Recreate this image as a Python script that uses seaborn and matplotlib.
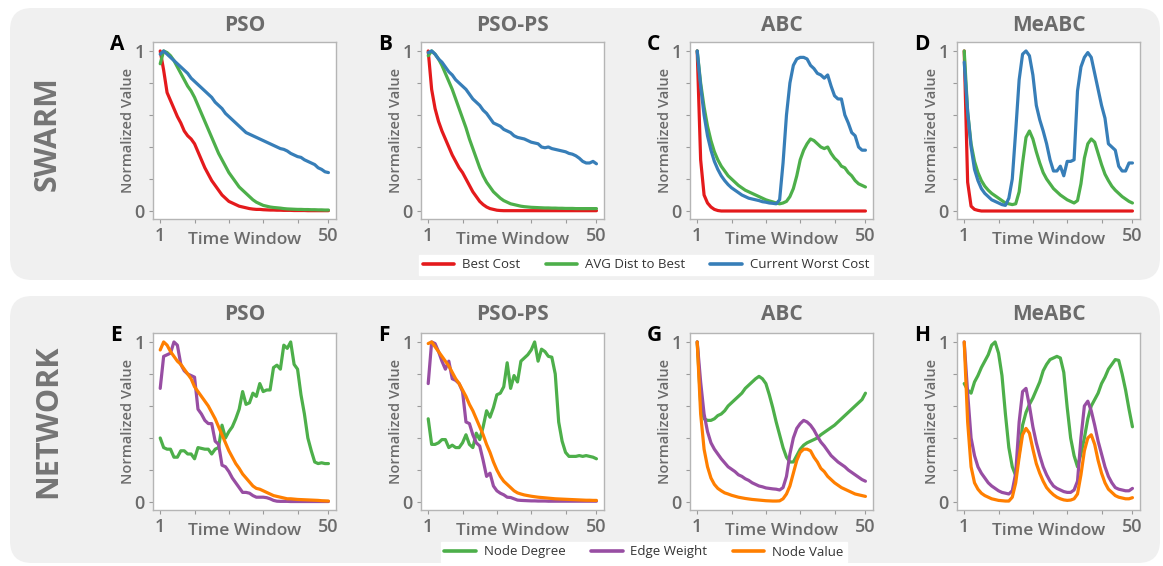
import numpy as np
import pandas as pd
import matplotlib
matplotlib.use("Agg")
import matplotlib.pyplot as plt
from matplotlib.patches import FancyBboxPatch
from matplotlib.lines import Line2D
import seaborn as sns

# ---------------- data ----------------
time_window = list(range(1, 51))
algorithms = ["PSO", "PSO-PS", "ABC", "MeABC"]
swarm_letters = ["A", "B", "C", "D"]
network_letters = ["E", "F", "G", "H"]
swarm_metrics = ["Best Cost", "AVG Dist to Best", "Current Worst Cost"]
network_metrics = ["Node Degree", "Edge Weight", "Node Value"]
x_tick_labels = ["1", "", "", "", "", "50"]
y_tick_labels = ["0", "", "", "", "", "1"]

# --- SWARM ---
pso_best = [1.0, 0.88, 0.74, 0.69, 0.64, 0.59, 0.55, 0.50, 0.47, 0.45, 0.42, 0.37, 0.32, 0.27, 0.23, 0.19, 0.16, 0.13, 0.10, 0.08,
            0.06, 0.05, 0.04, 0.03, 0.025, 0.02, 0.015, 0.012, 0.01, 0.01, 0.008, 0.007, 0.006, 0.006, 0.005, 0.005, 0.004, 0.004, 0.004, 0.003,
            0.003, 0.003, 0.003, 0.002, 0.002, 0.002, 0.002, 0.002, 0.002, 0.002]
pso_avg = [0.92, 1.0, 0.99, 0.97, 0.94, 0.90, 0.86, 0.82, 0.78, 0.75, 0.71, 0.66, 0.61, 0.56, 0.51, 0.46, 0.41, 0.36, 0.32, 0.28,
           0.24, 0.21, 0.18, 0.15, 0.13, 0.11, 0.09, 0.07, 0.055, 0.045, 0.035, 0.03, 0.025, 0.022, 0.02, 0.018, 0.015, 0.013, 0.012, 0.011,
           0.01, 0.01, 0.009, 0.009, 0.008, 0.008, 0.007, 0.007, 0.006, 0.006]
pso_worst = [0.98, 1.0, 0.98, 0.96, 0.94, 0.92, 0.90, 0.88, 0.86, 0.83, 0.81, 0.79, 0.77, 0.75, 0.73, 0.71, 0.68, 0.66, 0.64, 0.61,
             0.59, 0.57, 0.55, 0.53, 0.51, 0.49, 0.48, 0.47, 0.46, 0.45, 0.44, 0.43, 0.42, 0.41, 0.40, 0.39, 0.385, 0.375, 0.36, 0.35,
             0.34, 0.335, 0.32, 0.31, 0.30, 0.29, 0.27, 0.26, 0.245, 0.24]

psops_best = [1.0, 0.76, 0.64, 0.56, 0.50, 0.45, 0.40, 0.35, 0.31, 0.27, 0.24, 0.20, 0.16, 0.12, 0.09, 0.06, 0.04, 0.025, 0.015, 0.01,
              0.005, 0.003, 0.002, 0.002, 0.002, 0.002, 0.002, 0.002, 0.002, 0.002, 0.002, 0.002, 0.002, 0.002, 0.002, 0.002, 0.002, 0.002, 0.002, 0.002,
              0.002, 0.002, 0.002, 0.002, 0.002, 0.002, 0.002, 0.002, 0.002, 0.002]
psops_avg = [0.97, 1.0, 0.98, 0.95, 0.91, 0.86, 0.81, 0.76, 0.70, 0.64, 0.58, 0.52, 0.45, 0.39, 0.33, 0.27, 0.22, 0.18, 0.15, 0.12,
             0.10, 0.08, 0.065, 0.055, 0.045, 0.04, 0.035, 0.03, 0.027, 0.025, 0.023, 0.022, 0.021, 0.02, 0.019, 0.019, 0.018, 0.018, 0.017, 0.017,
             0.016, 0.016, 0.016, 0.015, 0.015, 0.015, 0.015, 0.015, 0.015, 0.015]
psops_worst = [0.99, 1.0, 0.98, 0.95, 0.93, 0.90, 0.87, 0.85, 0.82, 0.80, 0.78, 0.76, 0.73, 0.70, 0.68, 0.66, 0.63, 0.61, 0.58, 0.55,
               0.54, 0.53, 0.51, 0.50, 0.49, 0.47, 0.46, 0.455, 0.45, 0.44, 0.43, 0.425, 0.42, 0.40, 0.395, 0.40, 0.39, 0.385, 0.38, 0.375,
               0.37, 0.36, 0.355, 0.345, 0.33, 0.31, 0.30, 0.30, 0.31, 0.295]

abc_best = [1.0, 0.32, 0.10, 0.05, 0.025, 0.01, 0.003] + [0.0] * 43
abc_avg = [1.0, 0.80, 0.65, 0.53, 0.44, 0.37, 0.32, 0.28, 0.25, 0.22, 0.20, 0.18, 0.16, 0.145, 0.13, 0.12, 0.11, 0.10, 0.09, 0.08,
           0.07, 0.063, 0.057, 0.05, 0.045, 0.05, 0.06, 0.09, 0.14, 0.22, 0.32, 0.38, 0.42, 0.45, 0.44, 0.42, 0.40, 0.39, 0.40, 0.36,
           0.33, 0.31, 0.28, 0.27, 0.24, 0.22, 0.19, 0.17, 0.16, 0.15]
abc_worst = [1.0, 0.78, 0.60, 0.47, 0.38, 0.31, 0.26, 0.22, 0.19, 0.165, 0.145, 0.13, 0.115, 0.10, 0.09, 0.08, 0.075, 0.07, 0.065, 0.058,
             0.055, 0.05, 0.048, 0.045, 0.07, 0.30, 0.60, 0.80, 0.91, 0.95, 0.96, 0.96, 0.95, 0.91, 0.89, 0.86, 0.85, 0.83, 0.85, 0.78,
             0.72, 0.70, 0.70, 0.60, 0.55, 0.49, 0.47, 0.40, 0.38, 0.38]

meabc_best = [1.0, 0.18, 0.03, 0.01, 0.004] + [0.0] * 45
meabc_avg = [1.0, 0.62, 0.42, 0.31, 0.24, 0.19, 0.155, 0.13, 0.11, 0.095, 0.08, 0.065, 0.05, 0.045, 0.04, 0.045, 0.12, 0.30, 0.46, 0.50,
             0.45, 0.37, 0.30, 0.24, 0.20, 0.17, 0.14, 0.12, 0.10, 0.085, 0.07, 0.06, 0.05, 0.065, 0.17, 0.33, 0.42, 0.45, 0.43, 0.36,
             0.29, 0.23, 0.19, 0.155, 0.13, 0.11, 0.09, 0.075, 0.06, 0.05]
meabc_worst = [0.93, 0.62, 0.40, 0.26, 0.19, 0.14, 0.11, 0.09, 0.07, 0.06, 0.05, 0.04, 0.035, 0.08, 0.20, 0.50, 0.82, 0.98, 1.0, 0.97,
               0.85, 0.66, 0.57, 0.50, 0.42, 0.32, 0.25, 0.25, 0.28, 0.22, 0.31, 0.31, 0.32, 0.75, 0.90, 0.96, 0.99, 0.96, 0.86, 0.76,
               0.66, 0.58, 0.42, 0.40, 0.38, 0.28, 0.25, 0.25, 0.30, 0.30]

# --- NETWORK ---
pso_degree = [0.40, 0.34, 0.33, 0.33, 0.28, 0.28, 0.32, 0.32, 0.30, 0.30, 0.27, 0.34, 0.335, 0.33, 0.33, 0.30, 0.33, 0.34, 0.48, 0.40,
              0.44, 0.47, 0.52, 0.58, 0.69, 0.61, 0.62, 0.68, 0.66, 0.74, 0.69, 0.70, 0.70, 0.84, 0.855, 0.83, 0.98, 0.96, 1.0, 0.86,
              0.83, 0.67, 0.55, 0.40, 0.32, 0.25, 0.24, 0.245, 0.24, 0.24]
pso_edge = [0.71, 0.91, 0.92, 0.93, 1.0, 0.98, 0.86, 0.82, 0.80, 0.79, 0.78, 0.58, 0.55, 0.51, 0.49, 0.49, 0.38, 0.36, 0.23, 0.22,
            0.19, 0.15, 0.12, 0.09, 0.06, 0.06, 0.055, 0.04, 0.03, 0.03, 0.03, 0.027, 0.02, 0.01, 0.005, 0.004, 0.004, 0.004, 0.003, 0.003,
            0.003, 0.003, 0.003, 0.003, 0.003, 0.003, 0.003, 0.003, 0.003, 0.003]
pso_value = [0.95, 1.0, 0.98, 0.94, 0.91, 0.88, 0.86, 0.83, 0.80, 0.77, 0.72, 0.69, 0.66, 0.63, 0.60, 0.56, 0.52, 0.47, 0.42, 0.37,
             0.32, 0.28, 0.24, 0.21, 0.175, 0.15, 0.125, 0.10, 0.085, 0.08, 0.07, 0.06, 0.05, 0.04, 0.035, 0.03, 0.025, 0.02, 0.02, 0.018,
             0.016, 0.015, 0.014, 0.013, 0.012, 0.011, 0.01, 0.008, 0.007, 0.006]

psops_degree = [0.52, 0.36, 0.36, 0.37, 0.39, 0.39, 0.34, 0.355, 0.34, 0.34, 0.37, 0.42, 0.36, 0.34, 0.43, 0.39, 0.47, 0.57, 0.53, 0.59,
                0.67, 0.68, 0.72, 0.87, 0.71, 0.79, 0.75, 0.88, 0.90, 0.92, 0.95, 1.0, 0.88, 0.955, 0.94, 0.91, 0.905, 0.80, 0.50, 0.38,
                0.31, 0.285, 0.285, 0.285, 0.29, 0.285, 0.29, 0.285, 0.28, 0.27]
psops_edge = [0.74, 1.0, 0.99, 0.94, 0.88, 0.83, 0.88, 0.77, 0.76, 0.74, 0.69, 0.50, 0.49, 0.42, 0.37, 0.35, 0.26, 0.16, 0.18, 0.10,
              0.07, 0.055, 0.045, 0.03, 0.028, 0.02, 0.012, 0.01, 0.009, 0.008, 0.007, 0.007, 0.006, 0.006, 0.006, 0.005, 0.005, 0.005, 0.005, 0.005,
              0.005, 0.005, 0.005, 0.005, 0.005, 0.005, 0.005, 0.005, 0.005, 0.005]
psops_value = [0.99, 1.0, 0.97, 0.94, 0.91, 0.88, 0.85, 0.81, 0.77, 0.74, 0.70, 0.66, 0.61, 0.57, 0.52, 0.47, 0.42, 0.36, 0.31, 0.25,
               0.20, 0.16, 0.13, 0.11, 0.09, 0.07, 0.057, 0.05, 0.044, 0.04, 0.036, 0.033, 0.03, 0.028, 0.026, 0.024, 0.022, 0.02, 0.019, 0.018,
               0.017, 0.016, 0.015, 0.014, 0.013, 0.012, 0.011, 0.011, 0.01, 0.01]

abc_degree = [1.0, 0.62, 0.52, 0.51, 0.51, 0.52, 0.54, 0.55, 0.57, 0.60, 0.62, 0.64, 0.66, 0.68, 0.71, 0.73, 0.75, 0.77, 0.785, 0.77,
              0.74, 0.67, 0.59, 0.50, 0.42, 0.34, 0.28, 0.25, 0.25, 0.29, 0.33, 0.355, 0.37, 0.38, 0.39, 0.40, 0.42, 0.435, 0.45, 0.465,
              0.48, 0.50, 0.52, 0.54, 0.56, 0.58, 0.60, 0.62, 0.64, 0.68]
abc_edge = [1.0, 0.75, 0.55, 0.44, 0.37, 0.33, 0.30, 0.27, 0.245, 0.22, 0.205, 0.19, 0.17, 0.16, 0.145, 0.135, 0.12, 0.11, 0.10, 0.095,
            0.088, 0.085, 0.082, 0.08, 0.075, 0.09, 0.16, 0.30, 0.40, 0.46, 0.49, 0.51, 0.50, 0.48, 0.45, 0.41, 0.375, 0.35, 0.32, 0.29,
            0.27, 0.25, 0.235, 0.22, 0.20, 0.185, 0.17, 0.155, 0.14, 0.13]
abc_value = [1.0, 0.55, 0.33, 0.22, 0.15, 0.11, 0.085, 0.07, 0.057, 0.05, 0.042, 0.036, 0.03, 0.026, 0.022, 0.019, 0.016, 0.014, 0.012, 0.01,
             0.008, 0.007, 0.006, 0.006, 0.007, 0.02, 0.05, 0.10, 0.18, 0.26, 0.31, 0.33, 0.33, 0.32, 0.28, 0.25, 0.21, 0.19, 0.16, 0.14,
             0.12, 0.105, 0.09, 0.08, 0.07, 0.06, 0.05, 0.045, 0.04, 0.035]

meabc_degree = [0.74, 0.70, 0.68, 0.75, 0.79, 0.84, 0.88, 0.92, 0.98, 1.0, 0.93, 0.79, 0.55, 0.34, 0.22, 0.165, 0.30, 0.48, 0.56, 0.61,
                0.65, 0.70, 0.75, 0.82, 0.86, 0.89, 0.90, 0.91, 0.90, 0.81, 0.59, 0.40, 0.29, 0.22, 0.30, 0.40, 0.52, 0.60, 0.64, 0.68,
                0.74, 0.78, 0.83, 0.86, 0.89, 0.885, 0.80, 0.70, 0.58, 0.47]
meabc_edge = [1.0, 0.68, 0.40, 0.29, 0.22, 0.18, 0.15, 0.12, 0.10, 0.085, 0.07, 0.06, 0.055, 0.05, 0.07, 0.18, 0.50, 0.69, 0.71, 0.60,
              0.47, 0.37, 0.29, 0.22, 0.17, 0.13, 0.10, 0.085, 0.075, 0.065, 0.06, 0.06, 0.075, 0.13, 0.40, 0.60, 0.63, 0.57, 0.48, 0.38,
              0.30, 0.22, 0.16, 0.12, 0.09, 0.08, 0.075, 0.07, 0.07, 0.085]
meabc_value = [1.0, 0.50, 0.22, 0.12, 0.08, 0.055, 0.04, 0.03, 0.02, 0.015, 0.01, 0.008, 0.006, 0.006, 0.03, 0.12, 0.28, 0.42, 0.46, 0.43,
               0.33, 0.24, 0.18, 0.13, 0.09, 0.065, 0.045, 0.03, 0.02, 0.013, 0.01, 0.012, 0.02, 0.05, 0.17, 0.32, 0.40, 0.42, 0.36, 0.26,
               0.18, 0.12, 0.08, 0.06, 0.04, 0.03, 0.025, 0.02, 0.02, 0.027]

swarm_series = {
    "PSO": [pso_best, pso_avg, pso_worst],
    "PSO-PS": [psops_best, psops_avg, psops_worst],
    "ABC": [abc_best, abc_avg, abc_worst],
    "MeABC": [meabc_best, meabc_avg, meabc_worst],
}
network_series = {
    "PSO": [pso_degree, pso_edge, pso_value],
    "PSO-PS": [psops_degree, psops_edge, psops_value],
    "ABC": [abc_degree, abc_edge, abc_value],
    "MeABC": [meabc_degree, meabc_edge, meabc_value],
}

set1 = sns.color_palette("Set1")
swarm_colors = {"Best Cost": set1[0], "AVG Dist to Best": set1[2], "Current Worst Cost": set1[1]}
network_colors = {"Node Degree": set1[2], "Edge Weight": set1[3], "Node Value": set1[4]}

# ---------------- style ----------------
sns.set_style("white")
plt.rcParams["font.family"] = ["Open Sans", "DejaVu Sans"]
TXT = "#6b6b6b"

W, H = 1163, 566
fig = plt.figure(figsize=(W / 100, H / 100), dpi=100)
fig.patch.set_facecolor("white")

# rounded gray background panels (inches)
for (x0, y0, w, h) in [(10, 8, 1150, 272), (10, 296, 1150, 267)]:
    p = FancyBboxPatch((x0 / 100, (H - y0 - h) / 100), w / 100, h / 100,
                       boxstyle="round,pad=0,rounding_size=0.22",
                       transform=fig.dpi_scale_trans, facecolor="#f0f0f0",
                       edgecolor="none", zorder=-5)
    fig.add_artist(p)

col_left = [153, 421, 690, 957]
ax_w = 183
row_top = [42, 333]
ax_h = 177


def make_axes(left, top):
    return fig.add_axes([left / W, 1 - (top + ax_h) / H, ax_w / W, ax_h / H])


def style_axes(ax, title, letter, title_pad):
    ax.set_facecolor("white")
    ax.set_xlim(-1.1, 52.2)
    ax.set_ylim(-0.05, 1.056)
    ax.set_xticks([1, 11, 21, 31, 41, 50])
    ax.set_xticklabels(x_tick_labels)
    ax.set_yticks([0, 0.2, 0.4, 0.6, 0.8, 1.0])
    ax.set_yticklabels(y_tick_labels)
    ax.tick_params(axis="both", length=3, width=0.8, colors="#9a9a9a",
                   labelcolor=TXT, labelsize=13, pad=3, bottom=True, left=True)
    for lab in ax.get_xticklabels() + ax.get_yticklabels():
        lab.set_fontweight("semibold")
    for sp in ax.spines.values():
        sp.set_color("#b5b5b5")
        sp.set_linewidth(1.0)
    ax.set_xlabel("Time Window", fontsize=12.5, color=TXT, fontweight="semibold")
    ax.xaxis.set_label_coords(0.5, -0.075)
    ax.set_ylabel("Normalized Value", fontsize=10.5, color=TXT, fontweight="semibold")
    ax.yaxis.set_label_coords(-0.10, 0.5)
    ax.set_title(title, fontsize=15, color=TXT, fontweight="bold", pad=title_pad)
    ax.text(-0.235, 1.045, letter, transform=ax.transAxes, fontsize=15,
            fontweight="bold", color="black", ha="left", va="top")
    if ax.get_legend() is not None:
        ax.get_legend().remove()


def draw_row(series, metrics, colors, top, letters, title_pad):
    for i, alg in enumerate(algorithms):
        ax = make_axes(col_left[i], top)
        frames = []
        for m, vals in zip(metrics, series[alg]):
            frames.append(pd.DataFrame({"Time Window": time_window,
                                        "value": vals, "metric": m}))
        df = pd.concat(frames, ignore_index=True)
        sns.lineplot(data=df, x="Time Window", y="value", hue="metric",
                     hue_order=metrics, palette=colors, linewidth=2.3,
                     ax=ax, legend=False)
        style_axes(ax, alg, letters[i], title_pad)


draw_row(swarm_series, swarm_metrics, swarm_colors, row_top[0], swarm_letters, 8)
draw_row(network_series, network_metrics, network_colors, row_top[1], network_letters, 9)

# row labels
fig.text(48 / W, 1 - 134 / H, "SWARM", rotation=90, fontsize=22, fontweight="bold",
         color="#757575", ha="center", va="center")
fig.text(48 / W, 1 - 421 / H, "NETWORK", rotation=90, fontsize=22, fontweight="bold",
         color="#757575", ha="center", va="center")


def add_legend(metrics, colors, cx, cy):
    handles = [Line2D([0], [0], color=colors[m], lw=2.6) for m in metrics]
    leg = fig.legend(handles, metrics, loc="center", bbox_to_anchor=(cx / W, 1 - cy / H),
                     ncol=3, frameon=True, fancybox=False, facecolor="white",
                     edgecolor="white", framealpha=1, fontsize=9.5,
                     handlelength=2.4, columnspacing=1.9, handletextpad=0.6,
                     borderpad=0.3, labelcolor="#333333")
    return leg


add_legend(swarm_metrics, swarm_colors, 646, 265)
add_legend(network_metrics, network_colors, 644, 552)

fig.savefig("out.png", dpi=100, facecolor="white")
